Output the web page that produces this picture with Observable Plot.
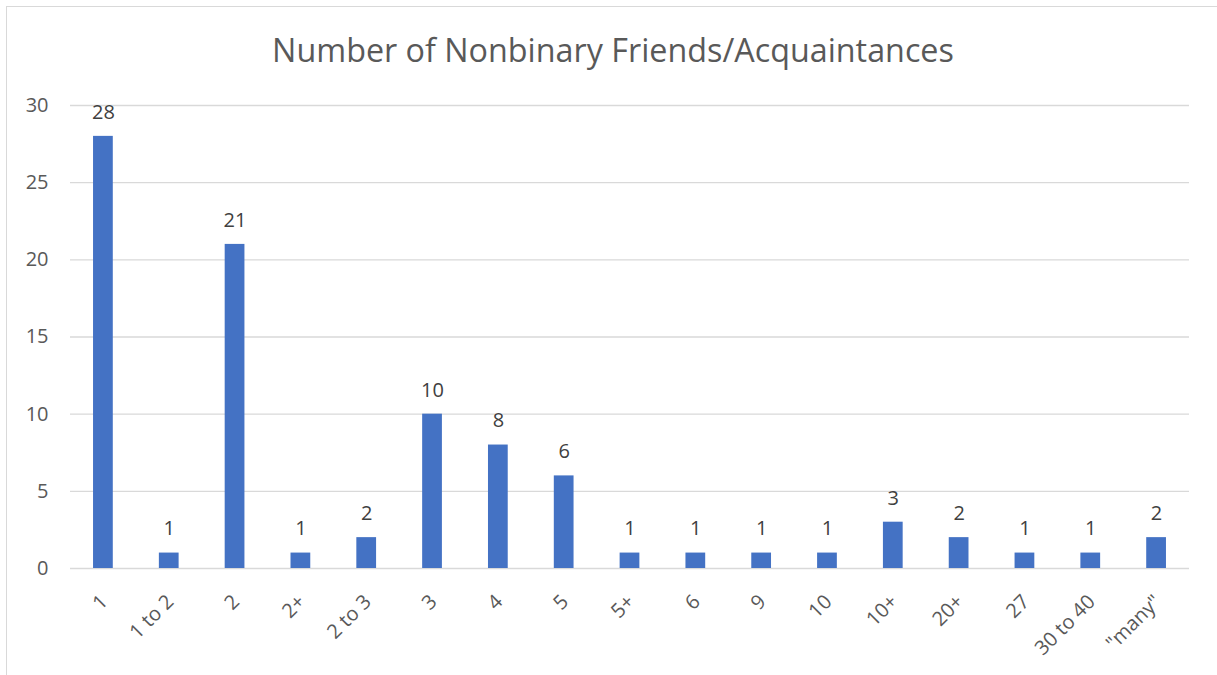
<!DOCTYPE html>
<html>
<head>
<meta charset="utf-8">
<script src="https://cdn.jsdelivr.net/npm/d3@7"></script>
<script src="https://cdn.jsdelivr.net/npm/@observablehq/plot@0.6"></script>
<style>
  html, body { margin: 0; padding: 0; background: #fff; }
  #wrap { position: relative; width: 1217px; height: 675px; overflow: hidden; font-family: "Open Sans", sans-serif; }
  #frame { position: absolute; left: 6px; top: 6px; width: 1300px; height: 800px; border: 1px solid #d9d9d9; box-sizing: border-box; }
  #title { position: absolute; left: 0; width: 1226px; top: 27px; text-align: center; font-size: 32.3px; color: #595959; font-weight: 400; white-space: nowrap; }
  #chart { position: absolute; left: 0; top: 0; }
</style>
</head>
<body>
<div id="wrap">
  <div id="frame"></div>
  <div id="title">Number of Nonbinary Friends/Acquaintances</div>
  <div id="chart"></div>
</div>
<script>
const categories = ["1", "1 to 2", "2", "2+", "2 to 3", "3", "4", "5", "5+", "6", "9", "10", "10+", "20+", "27", "30 to 40", "\"many\""];
const counts = [28, 1, 21, 1, 2, 10, 8, 6, 1, 1, 1, 1, 3, 2, 1, 1, 2];
const yTicks = [0, 5, 10, 15, 20, 25, 30];

const data = categories.map((c, i) => ({category: c, count: counts[i]}));

const plot = Plot.plot({
  width: 1217,
  height: 675,
  marginLeft: 70,
  marginRight: 28,
  marginTop: 105,
  marginBottom: 107,
  style: {fontFamily: "'Open Sans', sans-serif", fontSize: "20px", color: "#595959", background: "transparent"},
  x: {domain: categories, paddingInner: 0.7, paddingOuter: 0.35, round: false, label: null},
  y: {domain: [0, 30], label: null},
  marks: [
    Plot.ruleY(yTicks, {stroke: "#d9d9d9", strokeWidth: 1.3}),
    Plot.barY(data, {x: "category", y: "count", fill: "#4472C4"}),
    Plot.text(data, {x: "category", y: "count", text: d => String(d.count), dy: -24, fill: "#404040", fontSize: 20}),
    Plot.axisY({ticks: yTicks, tickSize: 0, tickPadding: 22, fill: "#595959", fontSize: 20}),
    Plot.axisX({tickSize: 0, tickRotate: -45, tickPadding: 30, dx: 1, fill: "#595959", fontSize: 20})
  ]
});
document.getElementById("chart").appendChild(plot);
</script>
</body>
</html>
